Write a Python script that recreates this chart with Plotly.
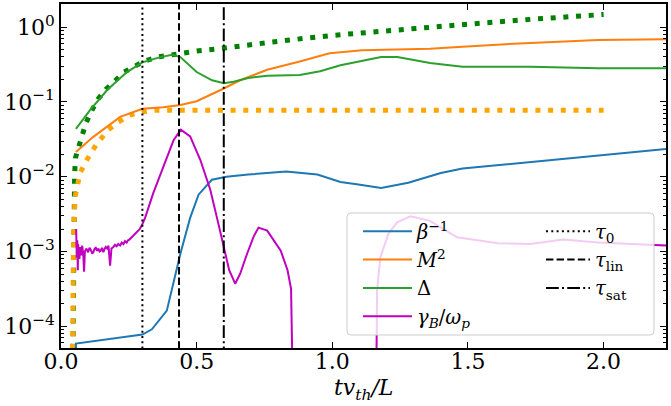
import plotly.graph_objects as go

# ---------------- data (y stored as log10) ----------------
beta_x = [0.055, 0.0551, 0.300, 0.335, 0.390, 0.440, 0.476, 0.507, 0.556, 0.610, 0.690, 0.760,
          0.830, 0.945, 1.030, 1.090, 1.180, 1.280, 1.400, 1.480, 1.730, 1.980, 2.230]
beta_log = [-6.0, -4.23, -4.11, -4.04, -3.79, -3.03, -2.55, -2.24, -2.04, -2.00, -1.97, -1.95,
            -1.93, -1.97, -2.07, -2.10, -2.15, -2.08, -1.95, -1.89, -1.80, -1.71, -1.63]

m2_x = [0.055, 0.118, 0.218, 0.300, 0.377, 0.440, 0.500, 0.550, 0.600, 0.660, 0.760, 0.880,
        0.990, 1.110, 1.240, 1.360, 1.480, 1.610, 1.730, 1.980, 2.230]
m2_log = [-1.67, -1.47, -1.20, -1.09, -1.07, -1.04, -0.99, -0.91, -0.82, -0.71, -0.57, -0.46,
          -0.35, -0.31, -0.30, -0.29, -0.26, -0.23, -0.21, -0.17, -0.16]

delta_x = [0.055, 0.107, 0.170, 0.243, 0.300, 0.366, 0.410, 0.440, 0.500, 0.557, 0.600, 0.636,
           0.690, 0.760, 0.880, 0.955, 1.030, 1.070, 1.180, 1.240, 1.360, 1.480, 1.730, 1.980, 2.230]
delta_log = [-1.36, -1.11, -0.84, -0.60, -0.47, -0.40, -0.37, -0.40, -0.60, -0.71, -0.75, -0.73,
             -0.68, -0.65, -0.64, -0.59, -0.51, -0.48, -0.40, -0.40, -0.48, -0.53, -0.53, -0.55, -0.55]

gamma_x = [0.056, 0.057, 0.058, 0.060, 0.062, 0.063, 0.065, 0.068, 0.070, 0.072, 0.075, 0.078,
           0.082, 0.085, 0.088, 0.094, 0.100, 0.105, 0.110, 0.115, 0.119, 0.124, 0.128, 0.133,
           0.138, 0.142, 0.146, 0.151, 0.156, 0.160, 0.165, 0.170, 0.175, 0.181, 0.186, 0.193,
           0.199, 0.205, 0.211, 0.218, 0.224, 0.230, 0.236, 0.242, 0.247, 0.252, 0.257, 0.261,
           0.266, 0.270, 0.275, 0.279, 0.285, 0.290, 0.298, 0.310, 0.340,
           0.378, 0.415, 0.442, 0.476, 0.513, 0.550, 0.575, 0.600, 0.620, 0.642, 0.660, 0.686,
           0.710, 0.728, 0.760, 0.810, 0.835, 0.848, 0.855, 0.860,
           None,
           1.159, 1.165, 1.177, 1.207, 1.239, 1.288, 1.360, 1.460, 1.610, 1.730, 1.850, 1.980, 2.230]
gamma_log = [-2.70, -2.95, -3.08, -2.85, -3.25, -2.90, -2.97, -3.10, -2.94, -3.02, -3.05, -2.92,
             -3.03, -3.27, -3.00, -2.96, -3.01, -2.95, -2.98, -3.03, -3.01, -2.96, -2.95, -2.99,
             -2.96, -3.00, -2.99, -2.95, -3.01, -2.97, -2.94, -2.96, -2.92, -3.19, -2.96, -2.94,
             -2.91, -2.93, -2.90, -2.92, -2.88, -2.90, -2.86, -2.88, -2.85, -2.84, -2.82, -2.81,
             -2.79, -2.78, -2.76, -2.74, -2.72, -2.70, -2.65, -2.55, -2.22,
             -1.86, -1.51, -1.37, -1.46, -1.77, -2.17, -2.55, -2.94, -3.25, -3.43, -3.30, -3.03,
             -2.80, -2.68, -2.72, -2.99, -3.25, -3.50, -4.20, -6.0,
             None,
             -6.0, -3.52, -3.08, -2.76, -2.61, -2.53, -2.59, -2.81, -2.89, -2.90, -2.84, -2.88, -2.92]

delta_est_x = [0.040, 0.045, 0.050, 0.053, 0.066, 0.092, 0.114, 0.137, 0.166, 0.200, 0.233, 0.273,
               0.310, 0.354, 0.400, 0.450, 0.500, 0.600, 0.720, 0.820, 1.000, 1.250, 1.500, 1.750, 2.000]
delta_est_log = [-6.0, -2.60, -2.00, -1.75, -1.59, -1.28, -1.11, -0.96, -0.83, -0.71, -0.60, -0.52,
                 -0.45, -0.40, -0.37, -0.35, -0.32, -0.28, -0.22, -0.18, -0.11, -0.03, 0.04, 0.11, 0.17]

m2_est_x = [0.040, 0.046, 0.052, 0.070, 0.096, 0.130, 0.175, 0.210, 0.260, 0.300, 0.350, 2.000]
m2_est_log = [-6.0, -2.80, -2.27, -1.95, -1.77, -1.57, -1.37, -1.27, -1.17, -1.13, -1.11, -1.11]

tau_names = ["<i>τ</i><sub>0</sub>", "<i>τ</i><sub>lin</sub>", "<i>τ</i><sub>sat</sub>"]
tau_values = [0.30, 0.435, 0.60]

x_tick_vals = [0.0, 0.5, 1.0, 1.5, 2.0]
y_tick_exps = [-4, -3, -2, -1, 0]
y_tick_text = ["10<sup>−4</sup>", "10<sup>−3</sup>", "10<sup>−2</sup>", "10<sup>−1</sup>", "10<sup>0</sup>"]

x_range = [0.0, 2.23]
y_range_log = [-4.29, 0.31]


def unlog(v):
    return [None if e is None else 10 ** e for e in v]


FONT = "DejaVu Serif"
fig = go.Figure()

# estimated (dotted) curves
fig.add_trace(go.Scatter(x=delta_est_x, y=unlog(delta_est_log), mode="lines", showlegend=False,
                         line=dict(color="green", width=5, dash="5px,7.7px")))
fig.add_trace(go.Scatter(x=m2_est_x, y=unlog(m2_est_log), mode="lines", showlegend=False,
                         line=dict(color="orange", width=5, dash="5px,7.7px")))

series = [
    ("<i>β</i><sup>−1</sup>", beta_x, beta_log, "#1f77b4"),
    ("<i>M</i><sup>2</sup>", m2_x, m2_log, "#ff7f0e"),
    ("Δ", delta_x, delta_log, "#2ca02c"),
    ("<i>γ</i><sub><i>B</i></sub>/<i>ω</i><sub><i>p</i></sub>", gamma_x, gamma_log, "#bf00bf"),
]
for name, xs, ys, col in series:
    fig.add_trace(go.Scatter(x=xs, y=unlog(ys), mode="lines", name=name, legend="legend",
                             line=dict(color=col, width=2), connectgaps=False))

dashes = ["2px,3.3px", "7.4px,3.2px", "12.8px,3.2px,2px,3.2px"]
for name, tv, d in zip(tau_names, tau_values, dashes):
    fig.add_trace(go.Scatter(x=[tv, tv], y=[10 ** (y_range_log[0] - 1), 10 ** (y_range_log[1] + 1)],
                             mode="lines", name=name, legend="legend2",
                             line=dict(color="black", width=2, dash=d)))

# legend frame (rounded, semi-transparent, like matplotlib)
x0, x1 = (347 - 61) / 605, (654 - 61) / 605
y0, y1 = (348 - 335) / 344, (348 - 213) / 344
rx, ry = 4 / 605, 4 / 344
path = (f"M {x0+rx},{y0} L {x1-rx},{y0} Q {x1},{y0} {x1},{y0+ry} L {x1},{y1-ry} "
        f"Q {x1},{y1} {x1-rx},{y1} L {x0+rx},{y1} Q {x0},{y1} {x0},{y1-ry} "
        f"L {x0},{y0+ry} Q {x0},{y0} {x0+rx},{y0} Z")
fig.add_shape(type="path", path=path, xref="paper", yref="paper", layer="above",
              fillcolor="rgba(255,255,255,0.8)", line=dict(color="rgb(204,204,204)", width=1))

# x-axis title as annotation (placed like the reference)
fig.add_annotation(text="<i>tv</i><sub><i>th</i></sub><i>/L</i>", xref="paper", yref="paper",
                   x=0.5, y=-(389 - 348) / 344, xanchor="center", yanchor="middle",
                   showarrow=False, font=dict(family=FONT, size=22, color="black"))

minor_vals = [m * 10 ** e for e in range(-5, 1) for m in range(2, 10)]

axis_common = dict(showline=True, linecolor="black", linewidth=1.5, mirror="allticks",
                   ticks="inside", tickcolor="black", tickwidth=1.2, ticklen=6,
                   showgrid=False, zeroline=False, automargin=False,
                   tickfont=dict(family=FONT, size=22, color="black"))

fig.update_layout(
    width=671, height=406,
    margin=dict(l=61, r=5, t=4, b=58),
    paper_bgcolor="white", plot_bgcolor="white",
    font=dict(family=FONT, color="black"),
    xaxis=dict(range=x_range, tickvals=x_tick_vals, tickformat=".1f",
               ticklabelstandoff=-7, **axis_common),
    yaxis=dict(type="log", range=y_range_log, tickvals=[10 ** e for e in y_tick_exps],
               ticktext=y_tick_text,
               minor=dict(ticks="inside", ticklen=3.5, tickcolor="black", tickwidth=1,
                          tickvals=minor_vals, showgrid=False),
               **axis_common),
    legend=dict(x=(358 - 61) / 605, y=(348 - 212) / 344, xanchor="left", yanchor="top",
                bgcolor="rgba(0,0,0,0)", borderwidth=0, tracegroupgap=0,
                font=dict(family=FONT, size=19.5, color="black"), itemwidth=49),
    legend2=dict(x=(541 - 61) / 605, y=(348 - 212) / 344, xanchor="left", yanchor="top",
                 bgcolor="rgba(0,0,0,0)", borderwidth=0,
                 font=dict(family=FONT, size=19.5, color="black"), itemwidth=44),
)

fig.write_html("out.html", config={"displayModeBar": False},
               post_script="document.body.style.margin='0px';document.body.style.overflow='hidden';")
